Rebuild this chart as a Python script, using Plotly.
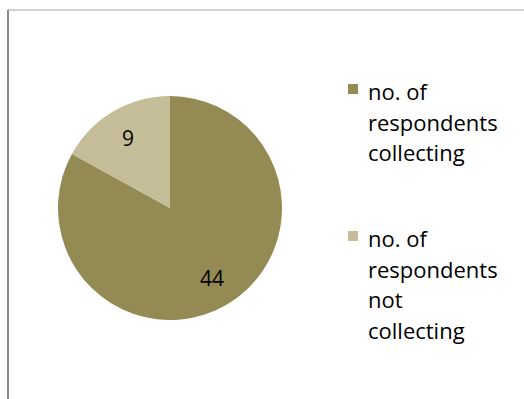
import math
import textwrap
import plotly.graph_objects as go

# Survey answers: respondents collecting vs not collecting
labels = ["no. of respondents collecting", "no. of respondents not collecting"]
values = [44, 9]
colors = ["#948A54", "#C4BD97"]

W, H = 524, 399
FONT = "Open Sans"


def px_x(v):
    return v / W


def px_y(v):
    # pixel row measured from the top -> paper y
    return 1 - v / H


# pie placement (centre and radius in pixels)
cx, cy, r = 170, 208, 112

fig = go.Figure(
    go.Pie(
        labels=labels,
        values=values,
        marker=dict(colors=colors, line=dict(width=0)),
        sort=False,
        direction="clockwise",
        rotation=0,
        textinfo="none",
        showlegend=False,
        domain=dict(x=[px_x(cx - r), px_x(cx + r)], y=[px_y(cy + r), px_y(cy - r)]),
    )
)

annotations = []
shapes = []

# value labels at each slice's mid-angle, about 3/4 of the way out
total = sum(values)
start = 0.0
for v in values:
    mid = math.radians((start + v / 2) / total * 360)
    start += v
    lx = cx + 0.73 * r * math.sin(mid)
    ly = cy - 0.73 * r * math.cos(mid)
    annotations.append(dict(
        xref="paper", yref="paper", x=px_x(lx), y=px_y(ly),
        xanchor="center", yanchor="middle", showarrow=False,
        text=str(v), font=dict(family=FONT, size=21, color="#000000"),
    ))

# legend drawn as swatches with wrapped labels, one line per row
legend_rows = [91, 238]
line_step = 30.7
for lab, col, row in zip(labels, colors, legend_rows):
    shapes.append(dict(
        type="rect", xref="paper", yref="paper",
        x0=px_x(348), x1=px_x(358), y0=px_y(row + 3), y1=px_y(row - 7),
        fillcolor=col, line=dict(width=0),
    ))
    for i, line in enumerate(textwrap.wrap(lab, 11)):
        annotations.append(dict(
            xref="paper", yref="paper", x=px_x(366), y=px_y(row + i * line_step),
            xanchor="left", yanchor="middle", align="left", showarrow=False,
            text=line, font=dict(family=FONT, size=22, color="#000000"),
        ))

# chart frame: top and left edges
shapes.append(dict(type="line", xref="paper", yref="paper",
                   x0=px_x(8), x1=1, y0=px_y(10), y1=px_y(10),
                   line=dict(color="#A6A6A6", width=1)))
shapes.append(dict(type="line", xref="paper", yref="paper",
                   x0=px_x(8), x1=px_x(8), y0=px_y(10), y1=0,
                   line=dict(color="#888888", width=2)))

fig.update_layout(
    width=W, height=H,
    margin=dict(l=0, r=0, t=0, b=0),
    paper_bgcolor="#FFFFFF",
    plot_bgcolor="#FFFFFF",
    shapes=shapes,
    annotations=annotations,
)

fig.write_html("out.html")
